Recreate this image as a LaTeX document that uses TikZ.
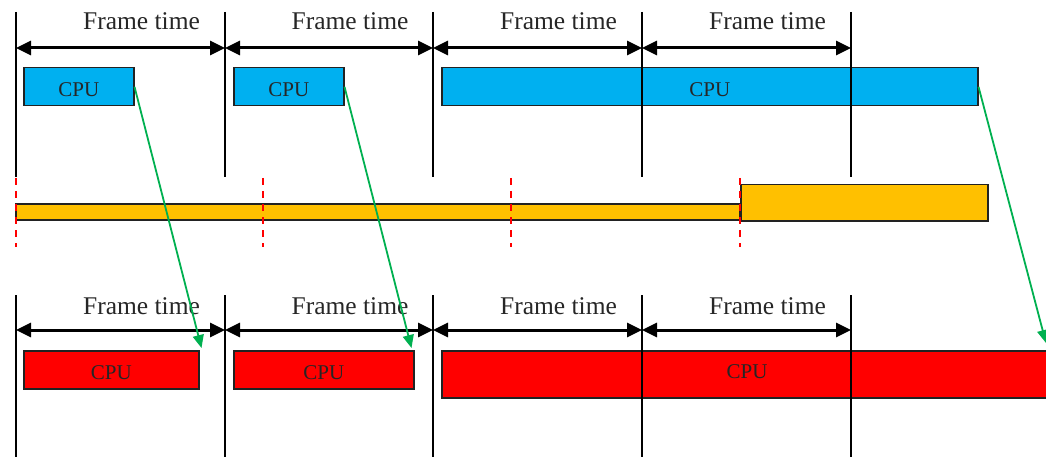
\documentclass[tikz,border=0pt]{standalone}
\usepackage{fontspec}
\setmainfont{Liberation Serif}
\usetikzlibrary{arrows.meta,calc}
\definecolor{cpublue}{HTML}{00B0F0}
\definecolor{gpuyellow}{HTML}{FFC000}
\definecolor{gpured}{HTML}{FF0000}
\definecolor{arrgreen}{HTML}{00B050}
\definecolor{outline}{HTML}{222222}
\begin{document}
\begin{tikzpicture}[x=1pt,y=-1pt,
  vline/.style={line width=1.8pt,black},
  ftarrow/.style={line width=3pt,{Triangle[length=15pt,width=14pt]}-{Triangle[length=15pt,width=14pt]}},
  ftlabel/.style={anchor=base,font=\fontsize{25.5}{28}\selectfont,text=black!85,inner sep=0pt},
  boxbase/.style={draw=outline,line width=1.5pt,inner sep=0pt,anchor=north west,font=\fontsize{21}{24}\selectfont,text=black!85},
  bluebox/.style={boxbase,fill=cpublue},
  redbox/.style={boxbase,fill=gpured},
  yelbox/.style={draw=outline,line width=1.5pt,fill=gpuyellow},
  reddash/.style={gpured,line width=1.5pt,dash pattern=on 7pt off 6pt},
  greenarr/.style={arrgreen,line width=1.8pt,-{Triangle[length=13pt,width=11pt]}}]
\useasboundingbox (0,0) rectangle (1046,457);
\clip (0,0) rectangle (1046,457);
% ---- top section: CPU boxes
\node[bluebox,minimum width=110pt,minimum height=38pt] (c1) at (23,67) {};
\node[bluebox,minimum width=110pt,minimum height=38pt] (c2) at (233,67) {};
\node[bluebox,minimum width=536pt,minimum height=38pt] (c3) at (441,67) {};
\foreach \n in {c1,c2,c3}{
  \node[font=\fontsize{21}{24}\selectfont,text=black!85,inner sep=0pt] (\n t) at ($(\n.center)+(0,3)$) {CPU};
}
% top vertical lines
\foreach \x [count=\i] in {16,225,433,642,851}{
  \coordinate (tt\i) at (\x,12);
  \coordinate (tb\i) at (\x,177);
  \coordinate (ta\i) at (\x,48);
  \draw[vline] (tt\i) -- (tb\i);
}
\foreach \i/\j in {1/2,2/3,3/4,4/5}{
  \draw[ftarrow] (ta\i) -- (ta\j);
  \node[ftlabel] (tl\i) at ($ (ta\i)!0.5!(ta\j) + (21,-18) $) {Frame time};
}
% ---- middle: yellow bar
\draw[yelbox] (16,204) rectangle (740,220);
\node[draw=outline,line width=1.5pt,fill=gpuyellow,inner sep=0pt,anchor=north west,minimum width=247pt,minimum height=36pt] (y2) at (740,184) {};
\foreach \x [count=\i] in {16,263,511,740}{
  \coordinate (dt\i) at (\x,178);
  \coordinate (db\i) at (\x,247);
  \draw[reddash] (dt\i) -- (db\i);
}
% ---- bottom section
\node[redbox,minimum width=175pt,minimum height=38pt] (g1) at (23,350) {};
\node[redbox,minimum width=180pt,minimum height=38pt] (g2) at (233,350) {};
\node[redbox,minimum width=612pt,minimum height=47pt] (g3) at (441,350) {};
\node[font=\fontsize{21}{24}\selectfont,text=black!85,inner sep=0pt] (g1t) at ($(g1.center)+(0,3)$) {CPU};
\node[font=\fontsize{21}{24}\selectfont,text=black!85,inner sep=0pt] (g2t) at ($(g2.center)+(0,3)$) {CPU};
\node[font=\fontsize{21}{24}\selectfont,text=black!85,inner sep=0pt] (g3t) at ($(g3.north west)+(306,22)$) {CPU};
\foreach \x [count=\i] in {16,225,433,642,851}{
  \coordinate (bt\i) at (\x,295);
  \coordinate (bb\i) at (\x,457);
  \coordinate (ba\i) at (\x,330);
  \draw[vline] (bt\i) -- (bb\i);
}
\foreach \i/\j in {1/2,2/3,3/4,4/5}{
  \draw[ftarrow] (ba\i) -- (ba\j);
  \node[ftlabel] (bl\i) at ($ (ba\i)!0.5!(ba\j) + (21,-16) $) {Frame time};
}
% ---- green arrows
\coordinate (g3tip) at (1046,343);
\draw[greenarr] (c1.east) -- ([shift={(2,-2)}]g1.north east);
\draw[greenarr] (c2.east) -- ([shift={(-3,-2)}]g2.north east);
\draw[greenarr] (c3.east) -- (g3tip);
\end{tikzpicture}
\end{document}
